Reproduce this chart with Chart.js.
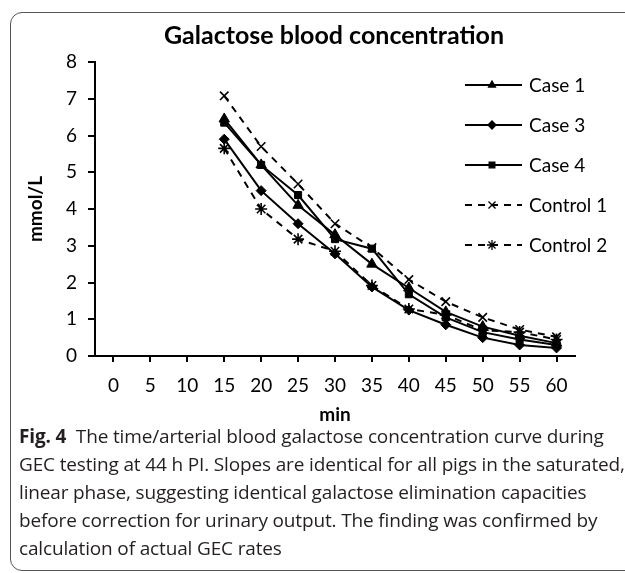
<!DOCTYPE html>
<html><head><meta charset="utf-8">
<script src="https://cdn.jsdelivr.net/npm/chart.js@4.4.0/dist/chart.umd.min.js"></script>
<style>
html,body{margin:0;padding:0;background:#fff;width:625px;height:573px;overflow:hidden;}
#frame{position:absolute;left:10px;top:12px;width:700px;height:559px;border:1.5px solid #555;border-radius:12px;box-sizing:border-box;}
#title{position:absolute;left:0;width:668px;top:19px;text-align:center;font:bold 25px Lato, sans-serif;color:#000;}
#wrap{position:absolute;left:0;top:0;width:625px;height:440px;}
#caption{position:absolute;left:19px;top:422px;font-family:'Open Sans',sans-serif;font-size:19px;line-height:28px;color:#231f20;white-space:nowrap;letter-spacing:-0.15px;}
#caption b{font-weight:700;}
</style></head>
<body>
<div id="frame"></div>
<div id="wrap"><canvas id="c" width="625" height="440"></canvas></div>
<div id="title">Galactose blood concentration</div>
<div id="caption"><b>Fig. 4</b>&nbsp; The time/arterial blood galactose concentration curve during<br>GEC testing at 44 h PI. Slopes are identical for all pigs in the saturated,<br>linear phase, suggesting identical galactose elimination capacities<br>before correction for urinary output. The finding was confirmed by<br>calculation of actual GEC rates</div>
<script>
const categories = ['0','5','10','15','20','25','30','35','40','45','50','55','60'];
const case1    = [null,null,null,6.45,5.2,4.1,3.3,2.5,1.85,1.2,0.8,0.55,0.35];
const case3    = [null,null,null,5.9,4.5,3.6,2.78,1.88,1.25,0.85,0.5,0.3,0.22];
const case4    = [null,null,null,6.35,5.2,4.38,3.18,2.92,1.68,1.05,0.65,0.45,0.3];
const control1 = [null,null,null,7.08,5.7,4.68,3.6,2.95,2.08,1.48,1.05,0.72,0.52];
const control2 = [null,null,null,5.65,4.0,3.18,2.85,1.92,1.28,1.12,0.7,0.65,0.45];
const seriesNames = ['Case 1','Case 3','Case 4','Control 1','Control 2'];
const yTicks = [0,1,2,3,4,5,6,7,8];

function ds(label, data, style, dashed, r){
  return {label, data, borderColor:'#000', backgroundColor:'#000', borderWidth:2,
    borderDash: dashed ? [7,6] : [], pointStyle:style, pointRadius:r, pointHoverRadius:r,
    pointBorderWidth: (style==='crossRot'||style==='star') ? 1.6 : 1, spanGaps:false, tension:0};
}

const legendPlugin = {
  id:'customLegend',
  afterDraw(chart){
    const ctx = chart.ctx;
    const x0 = 465, x1 = 522, xm = 492, xt = 529, y0 = 85, gap = 40;
    chart.data.datasets.forEach((d,i)=>{
      const y = y0 + i*gap;
      ctx.save();
      ctx.strokeStyle='#000'; ctx.fillStyle='#000'; ctx.lineWidth=2;
      ctx.setLineDash(d.borderDash||[]);
      ctx.beginPath(); ctx.moveTo(x0,y); ctx.lineTo(x1,y); ctx.stroke();
      ctx.setLineDash([]);
      ctx.lineWidth = 1.3;
      Chart.helpers.drawPoint(ctx,{pointStyle:d.pointStyle,radius:d.pointStyle==='crossRot'||d.pointStyle==='star'?5:4,borderWidth:1.3,rotation:0},xm,y);
      ctx.font='19px Lato'; ctx.textBaseline='middle'; ctx.textAlign='left';
      ctx.fillText(d.label, xt, y+1);
      ctx.restore();
    });
  }
};

new Chart(document.getElementById('c'), {
  type:'line',
  data:{ labels:categories, datasets:[
    ds(seriesNames[0], case1, 'triangle', false, 6),
    ds(seriesNames[1], case3, 'rectRot', false, 5),
    ds(seriesNames[2], case4, 'rect', false, 5),
    ds(seriesNames[3], control1, 'crossRot', true, 6),
    ds(seriesNames[4], control2, 'star', true, 6)
  ]},
  options:{
    responsive:false, animation:false,
    layout:{padding:{left:0,right:50,top:62,bottom:0}},
    plugins:{legend:{display:false}, title:{display:false}, tooltip:{enabled:false}},
    scales:{
      x:{ offset:true,
        grid:{display:true, drawOnChartArea:false, drawTicks:true, tickLength:6, color:'#000', lineWidth:2, offset:false},
        border:{display:true, color:'#000', width:2},
        ticks:{font:{family:'Lato', size:19}, color:'#000', padding:12, maxRotation:0, autoSkip:false},
        title:{display:true, text:'min', font:{family:'Lato', size:19, weight:'bold'}, color:'#000', padding:{top:0,bottom:14}},
        afterFit(s){ s.height = 84; }
      },
      y:{ min:0, max:8,
        afterBuildTicks(s){ s.ticks = yTicks.map(v=>({value:v})); },
        grid:{display:true, drawOnChartArea:false, drawTicks:true, tickLength:7, color:'#000', lineWidth:2},
        border:{display:true, color:'#000', width:2},
        ticks:{font:{family:'Lato', size:19}, color:'#000', padding:11},
        title:{display:true, text:'mmol/L', font:{family:'Lato', size:19, weight:'bold'}, color:'#000', padding:{top:24,bottom:0}},
        afterFit(s){ s.width = 95; }
      }
    }
  },
  plugins:[legendPlugin]
});
</script>
</body></html>
